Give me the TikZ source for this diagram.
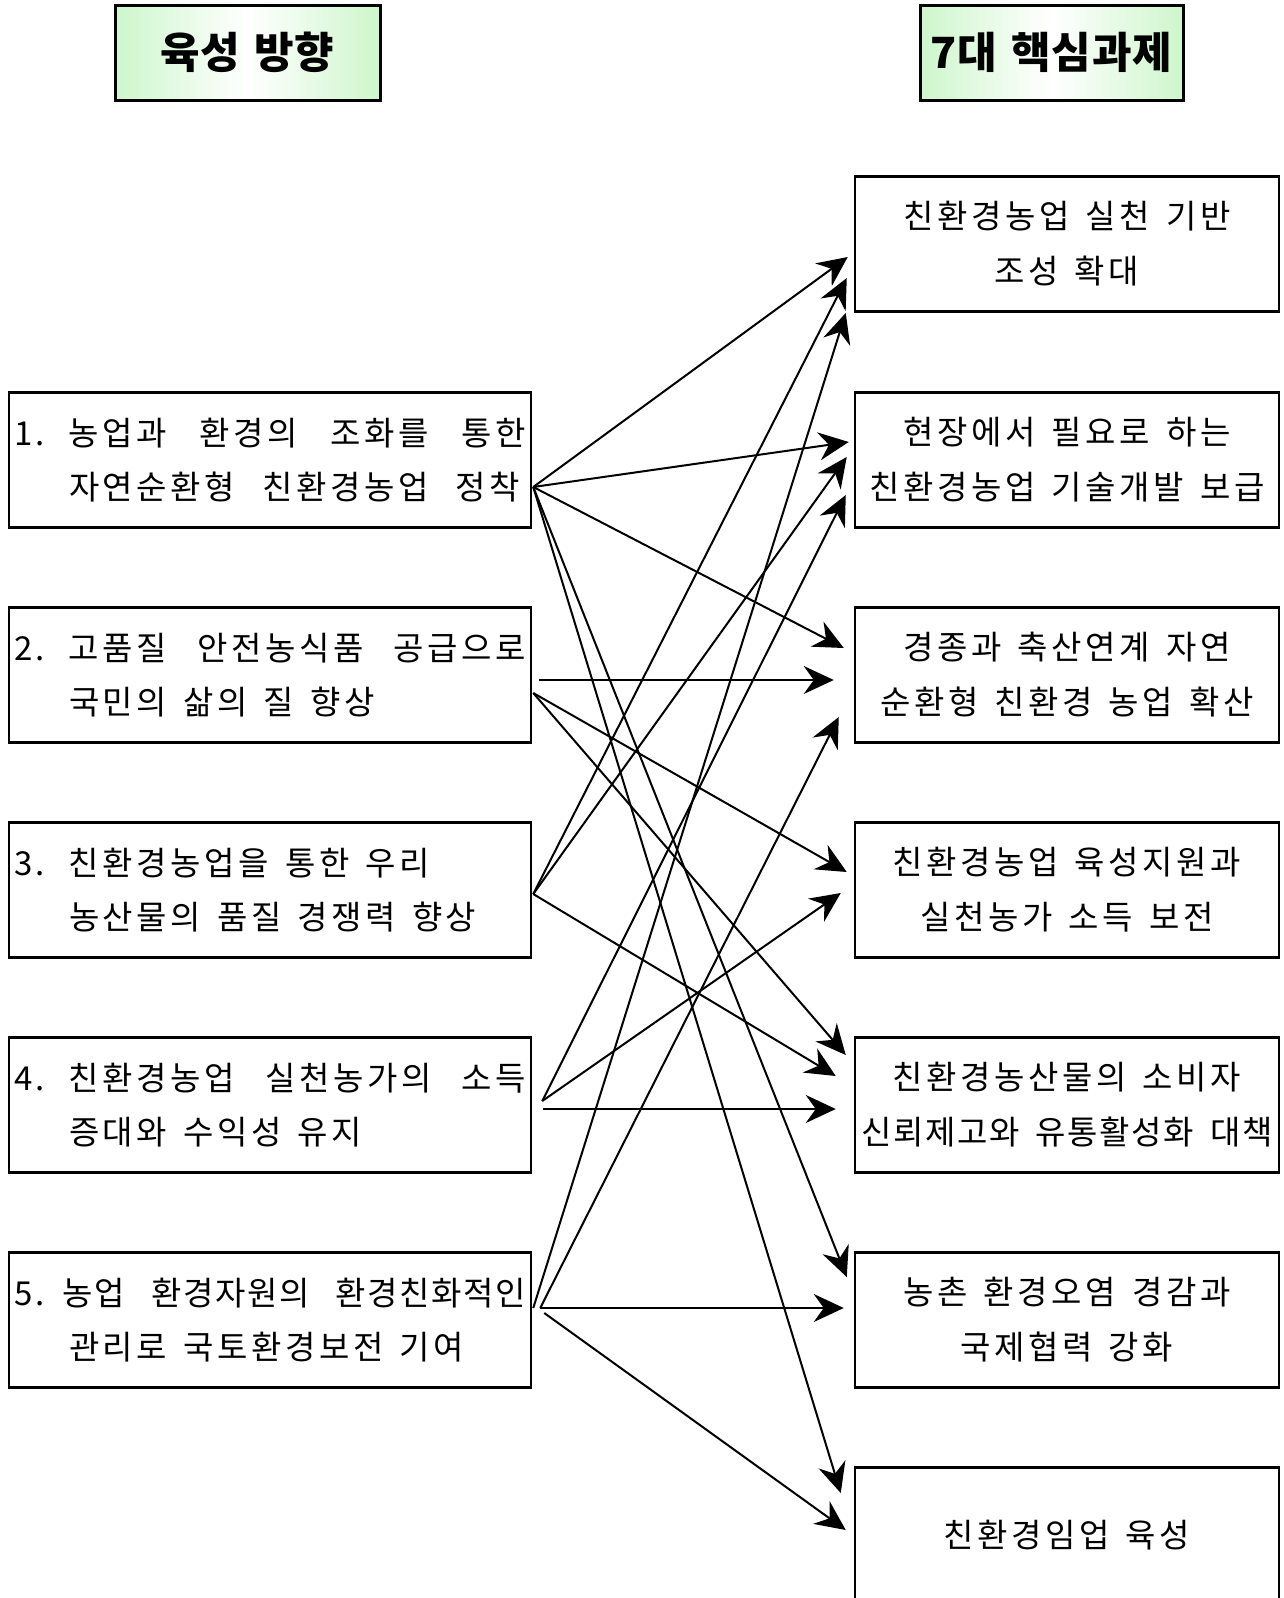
\documentclass[tikz,border=0pt]{standalone}
\usepackage{fontspec}
\newfontfamily\kr{Noto Sans CJK KR}[LetterSpace=11]
\newfontfamily\krt{Noto Sans CJK KR}[LetterSpace=5]
\newfontfamily\krh{Noto Sans CJK KR}[LetterSpace=2]
\usetikzlibrary{arrows.meta,calc}
\definecolor{hdr}{RGB}{206,246,204}
\newcommand{\lrow}[3]{\parbox{512pt}{\baselineskip=54pt\makebox[55pt][l]{#1}#2\par\hspace*{55pt}#3}}
\newcommand{\hdrfont}{\krh\bfseries\fontsize{43}{48}\selectfont\spaceskip=14pt\relax}
\newcommand{\lfont}{\kr\fontsize{33}{54}\selectfont\spaceskip=16pt plus 80pt\relax}
\newcommand{\rfont}{\kr\fontsize{33}{55}\selectfont\spaceskip=16pt\relax}
\begin{document}
\begin{tikzpicture}[x=1pt,y=-1pt,
  hdrbox/.style={draw, line width=3pt, minimum width=265pt, minimum height=95pt, inner sep=0pt,
    left color=hdr, right color=hdr, middle color=white, font=\hdrfont},
  lbox/.style={draw, line width=2.5pt, minimum width=522pt, minimum height=135pt, inner sep=0pt,
    font=\lfont},
  rbox/.style={draw, line width=2.5pt, minimum width=424pt, minimum height=135pt, inner sep=0pt,
    align=center, font=\rfont},
  conn/.style={line width=2pt, -{Stealth[length=30pt,width=28pt,inset=10pt]}}]
\useasboundingbox (0,0) rectangle (1283,1598);
% headers
\node[hdrbox] (h1) at (247.5,52.5) {육성 방향};
\node[hdrbox, minimum width=263pt] (h2) at (1051.5,52.5) {7대 핵심과제};
% left boxes
\node[lbox] (L1) at (270,460) {\lrow{1.}{\makebox[457pt][s]{농업과 환경의 조화를 통한}}{\makebox[451pt][s]{자연순환형 친환경농업 정착}}};
\node[lbox] (L2) at (270,675) {\lrow{2.}{\makebox[457pt][s]{고품질 안전농식품 공급으로}}{국민의 삶의 질 향상}};
\node[lbox] (L3) at (270,890) {\lrow{3.}{친환경농업을 통한 우리}{농산물의 품질 경쟁력 향상}};
\node[lbox] (L4) at (270,1105) {\lrow{4.}{\makebox[457pt][s]{친환경농업 실천농가의 소득}}{증대와 수익성 유지}};
\node[lbox] (L5) at (270,1320) {\parbox{512pt}{\baselineskip=54pt\makebox[49pt][l]{5.}{\krt\makebox[463pt][s]{농업 환경자원의 환경친화적인}}\par\hspace*{55pt}관리로 국토환경보전 기여}};
% right boxes
\node[rbox] (A) at (1067,244) {친환경농업 실천 기반\\조성 확대};
\node[rbox] (B) at (1067,460) {현장에서 필요로 하는\\친환경농업 기술개발 보급};
\node[rbox] (C) at (1067,675) {경종과 축산연계 자연\\순환형 친환경 농업 확산};
\node[rbox] (D) at (1067,890) {친환경농업 육성지원과\\실천농가 소득 보전};
\node[rbox] (E) at (1067,1105) {친환경농산물의 소비자\\{\krt 신뢰제고와 유통활성화 대책}};
\node[rbox] (F) at (1067,1320) {농촌 환경오염 경감과\\국제협력 강화};
\node[rbox] (G) at (1067,1535) {친환경임업 육성};
% sources
\coordinate (s1) at ($(L1.east)+(1,27)$);
\coordinate (s2) at ($(L2.east)+(1,18)$);
\coordinate (s2h) at ($(L2.east)+(7,5)$);
\coordinate (s3) at ($(L3.east)+(1,4)$);
\coordinate (s4) at ($(L4.east)+(10,-4)$);
\coordinate (s4h) at ($(L4.east)+(11,4)$);
\coordinate (s5) at ($(L5.east)+(1,-12)$);
\coordinate (s5b) at ($(L5.east)+(8,-12)$);
\coordinate (s5c) at ($(L5.east)+(12,-7)$);
% tips
\coordinate (a1) at ($(A.west)+(-6,13)$);
\coordinate (a3) at ($(A.west)+(-7,34)$);
\coordinate (a5) at ($(A.west)+(-8,69)$);
\coordinate (b1) at ($(B.west)+(-5,-18)$);
\coordinate (b3) at ($(B.west)+(-7,-3)$);
\coordinate (b4) at ($(B.west)+(-8,35)$);
\coordinate (c1) at ($(C.west)+(-10,-27)$);
\coordinate (c2) at ($(C.west)+(-20,5)$);
\coordinate (c5) at ($(C.west)+(-15,42)$);
\coordinate (d2) at ($(D.west)+(-7,-18)$);
\coordinate (d4) at ($(D.west)+(-13,3)$);
\coordinate (e2) at ($(E.west)+(-8,-50)$);
\coordinate (e3) at ($(E.west)+(-18,-29)$);
\coordinate (e4) at ($(E.west)+(-18,4)$);
\coordinate (f1) at ($(F.west)+(-7,-43)$);
\coordinate (f5) at ($(F.west)+(-10,-12)$);
\coordinate (g1) at ($(G.west)+(-13,-42)$);
\coordinate (g5) at ($(G.west)+(-8,-5)$);
% connectors
\draw[conn] (s1) -- (a1);
\draw[conn] (s3) -- (a3);
\draw[conn] (s5) -- (a5);
\draw[conn] (s1) -- (b1);
\draw[conn] (s3) -- (b3);
\draw[conn] (s4) -- (b4);
\draw[conn] (s1) -- (c1);
\draw[conn] (s2h) -- (c2);
\draw[conn] (s5b) -- (c5);
\draw[conn] (s2) -- (d2);
\draw[conn] (s4) -- (d4);
\draw[conn] (s2) -- (e2);
\draw[conn] (s3) -- (e3);
\draw[conn] (s4h) -- (e4);
\draw[conn] (s1) -- (f1);
\draw[conn] (s5b) -- (f5);
\draw[conn] (s1) -- (g1);
\draw[conn] (s5c) -- (g5);
\end{tikzpicture}
\end{document}
